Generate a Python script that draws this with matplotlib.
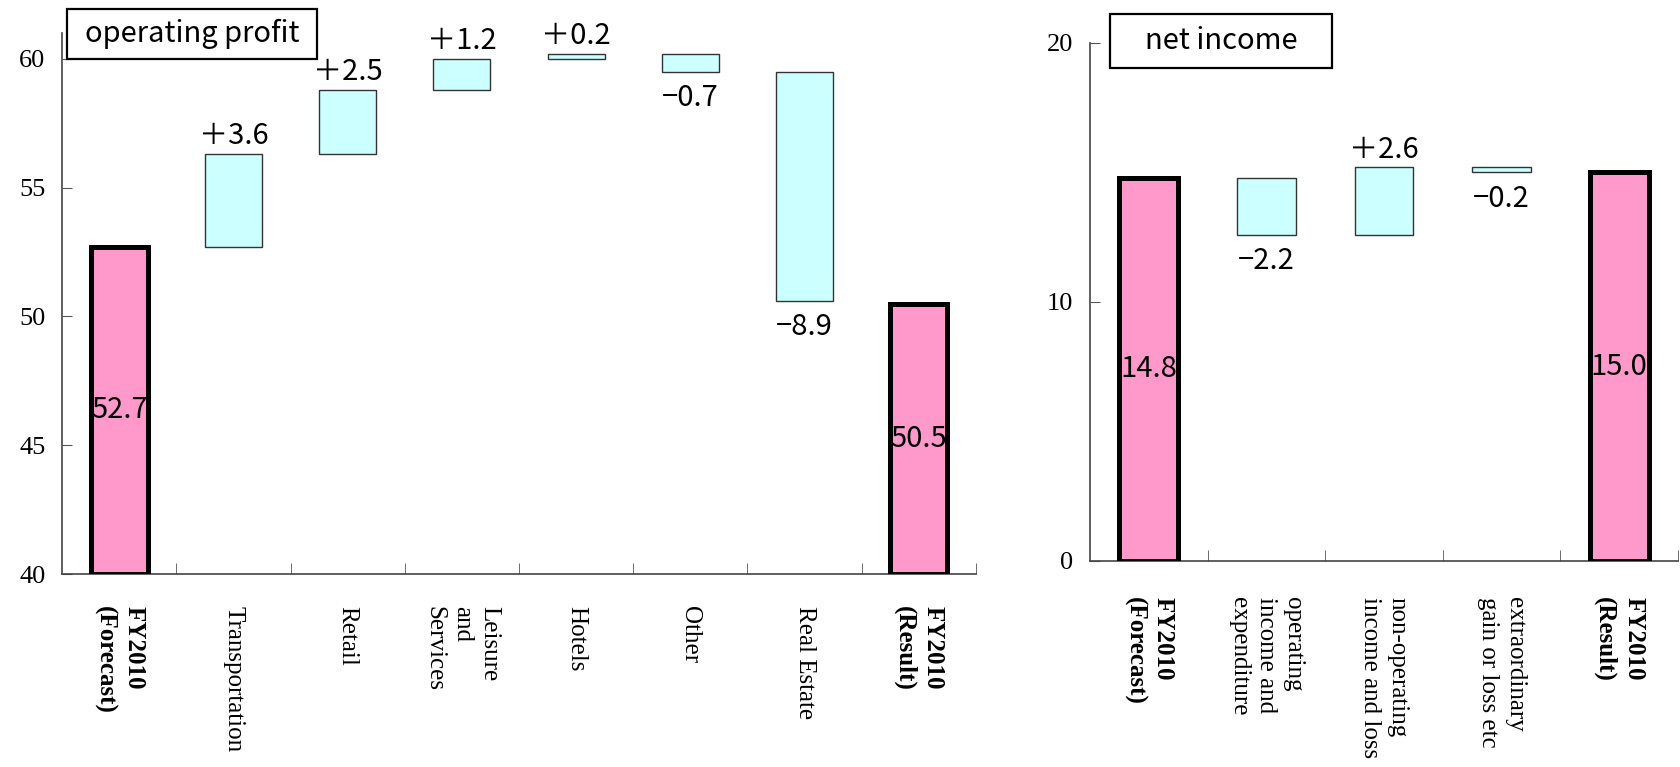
import matplotlib

matplotlib.use("Agg")
import matplotlib.pyplot as plt
import numpy as np
from matplotlib.patches import Rectangle

# operating profit bridge
op_labels = [
    "FY2010\n(Forecast)",
    "Transportation",
    "Retail",
    "Leisure\nand\nServices",
    "Hotels",
    "Other",
    "Real Estate",
    "FY2010\n(Result)",
]
op_start = 52.7
op_changes = [3.6, 2.5, 1.2, 0.2, -0.7, -8.9]
op_end = 50.5
op_yticks = [40, 45, 50, 55, 60]

# net income bridge
ni_labels = [
    "FY2010\n(Forecast)",
    "operating\nincome and\nexpenditure",
    "non-operating\nincome and loss",
    "extraordinary\ngain or loss etc",
    "FY2010\n(Result)",
]
ni_start = 14.8
ni_changes = [-2.2, 2.6, -0.2]
ni_end = 15.0
ni_yticks = [0, 10, 20]

PINK = "#ff99cc"
CYAN = "#ccffff"
VALUE_FONT = ["Noto Sans CJK JP", "DejaVu Sans"]
SERIF = ["Liberation Serif", "DejaVu Serif"]
W, H = 1681, 767


def waterfall(ax, labels, start, changes, end, ylim, yticks, label_pad):
    n = len(labels)
    x = np.arange(n)
    levels = start + np.cumsum([0] + changes)
    lows = np.minimum(levels[:-1], levels[1:])
    highs = np.maximum(levels[:-1], levels[1:])

    ax.bar(x[1:-1], np.abs(changes), bottom=lows, width=0.5, color=CYAN,
           edgecolor="#333333", linewidth=1.0, zorder=2)
    totals = [start, end]
    ax.bar([x[0], x[-1]], [t - ylim[0] for t in totals], bottom=ylim[0],
           width=0.5, color=PINK, edgecolor="black", linewidth=3.6, zorder=3)

    # labels inside the total bars
    for xi, t in zip([x[0], x[-1]], totals):
        ax.text(xi, (ylim[0] + t) / 2, f"{t:.1f}", ha="center", va="center",
                fontsize=21, family=VALUE_FONT, zorder=4)

    # labels for the changes
    for xi, v, lo, hi in zip(x[1:-1], changes, lows, highs):
        if v >= 0:
            ax.annotate(f"\uff0b{v:.1f}", xy=(xi, hi), xytext=(0, 2),
                        textcoords="offset points", ha="center", va="bottom",
                        fontsize=21, family=VALUE_FONT)
        else:
            ax.annotate(f"\u2212{abs(v):.1f}", xy=(xi, lo), xytext=(0, -8),
                        textcoords="offset points", ha="center", va="top",
                        fontsize=21, family=VALUE_FONT)

    ax.set_xlim(-0.5, n - 0.5)
    ax.set_ylim(*ylim)
    ax.set_yticks(yticks)
    ax.set_xticks(x)
    ax.set_xticklabels(labels, rotation=270, ha="center", va="top",
                       multialignment="left", linespacing=1.3,
                       family=SERIF, fontsize=18)
    for lab in ax.get_xticklabels()[::n - 1]:
        lab.set_fontweight("bold")
    ax.set_xticks(np.arange(n) + 0.5, minor=True)
    ax.tick_params(axis="x", which="major", length=0, pad=label_pad)
    ax.tick_params(axis="x", which="minor", direction="in", length=8,
                   color="#555555")
    ax.tick_params(axis="y", direction="in", length=7, pad=12,
                   labelsize=19, color="#555555")
    for lab in ax.get_yticklabels():
        lab.set_family(SERIF)
    for side in ["top", "right"]:
        ax.spines[side].set_visible(False)
    for side in ["left", "bottom"]:
        ax.spines[side].set_color("#444444")
        ax.spines[side].set_linewidth(1.2)


def title_box(fig, text, x0, x1, y0, y1):
    fig.patches.append(Rectangle((x0 / W, 1 - y1 / H), (x1 - x0) / W,
                                 (y1 - y0) / H, transform=fig.transFigure,
                                 fc="white", ec="black", lw=1.6, zorder=5))
    fig.text((x0 + x1) / 2 / W, 1 - (y0 + y1) / 2 / H, text, ha="center",
             va="center", fontsize=21, family=["Noto Sans CJK JP", "DejaVu Sans"],
             zorder=6)


fig = plt.figure(figsize=(W / 100, H / 100), dpi=100)
ax1 = fig.add_axes([0.0369, 0.2516, 0.5437, 0.7053])
ax2 = fig.add_axes([0.6484, 0.2686, 0.3498, 0.6754])

waterfall(ax1, op_labels, op_start, op_changes, op_end, (40, 61), op_yticks, 23)
waterfall(ax2, ni_labels, ni_start, ni_changes, ni_end, (0, 20), ni_yticks, 26)

title_box(fig, "operating profit", 67, 317, 9, 59)
title_box(fig, "net income", 1110, 1332, 14, 68)

fig.savefig("out.png", dpi=100)
